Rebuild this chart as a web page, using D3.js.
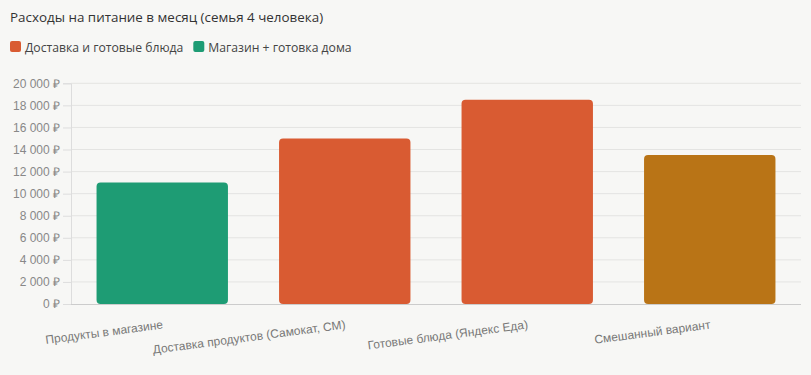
<!DOCTYPE html>
<html><head><meta charset="utf-8">
<script src="https://cdn.jsdelivr.net/npm/d3@7"></script>
<style>
html,body{margin:0;padding:0;background:#f7f7f5;}
svg{display:block;}
</style></head>
<body>
<svg id="c" width="811" height="375"></svg>
<script>
const categories = ["Продукты в магазине", "Доставка продуктов (Самокат, СМ)", "Готовые блюда (Яндекс Еда)", "Смешанный вариант"];
const values = [11000, 15000, 18500, 13500];
const barColors = ["#1e9c74", "#d95b32", "#d95b32", "#b97416"];
const yTicks = [0, 2000, 4000, 6000, 8000, 10000, 12000, 14000, 16000, 18000, 20000];
const legendLabels = ["Доставка и готовые блюда", "Магазин + готовка дома"];
const legendColors = ["#d95b32", "#1e9c74"];
const title = "Расходы на питание в месяц (семья 4 человека)";

(function () {
const svg = d3.select("#c");
svg.append("rect").attr("width", 811).attr("height", 375).attr("fill", "#f7f7f5");

const pLeft = 71, pRight = 801, pTop = 83.3, pBottom = 304;
const x = d3.scaleBand().domain(categories).range([pLeft, pRight]).paddingInner(0.28).paddingOuter(0.14);
const y = d3.scaleLinear().domain([0, 20000]).range([pBottom, pTop]);
const fmt = v => d3.format(",")(v).replace(/,/g, "\u00a0") + " \u20bd";

// title
svg.append("text").attr("x", 10).attr("y", 22).text(title)
  .attr("font-family", "'Open Sans', sans-serif").attr("font-size", 13.4).attr("fill", "#333");

// legend
let lx = 10;
legendLabels.forEach((l, i) => {
  svg.append("rect").attr("x", lx).attr("y", 41).attr("width", 11).attr("height", 11).attr("rx", 2)
    .attr("fill", legendColors[i]);
  const t = svg.append("text").attr("x", lx + 15).attr("y", 51.5).text(l)
    .attr("font-family", "'Open Sans', sans-serif").attr("font-size", 12.2).attr("fill", "#444");
  lx += 15 + t.node().getComputedTextLength() + 10;
});

// grid
svg.append("g").selectAll("line").data(yTicks.filter(d => d > 0)).join("line")
  .attr("x1", pLeft).attr("x2", pRight).attr("y1", d => y(d)).attr("y2", d => y(d))
  .attr("stroke", "#e4e4e2").attr("stroke-width", 1);

// y axis
const ya = svg.append("g").attr("transform", `translate(${pLeft},0)`)
  .call(d3.axisLeft(y).tickValues(yTicks).tickFormat(fmt).tickSize(8).tickPadding(3));
ya.select(".domain").attr("stroke", "#dddddd");
ya.selectAll(".tick line").attr("stroke", "#dddddd");
ya.selectAll("text").attr("font-family", "'Liberation Sans', Arial, sans-serif").attr("font-size", 12).attr("fill", "#888");

// bars
svg.append("g").selectAll("rect").data(values).join("rect")
  .attr("x", (d, i) => x(categories[i])).attr("width", x.bandwidth())
  .attr("y", d => y(d)).attr("height", d => y(0) - y(d))
  .attr("rx", 4).attr("fill", (d, i) => barColors[i]);

// x axis line
svg.append("line").attr("x1", pLeft).attr("x2", pRight).attr("y1", pBottom + 0.5).attr("y2", pBottom + 0.5)
  .attr("stroke", "#cccccc");

// x labels
svg.append("g").selectAll("text").data(categories).join("text")
  .attr("transform", d => `translate(${x(d) + x.bandwidth() / 2},${pBottom + 16}) rotate(-7.5)`)
  .attr("text-anchor", "end").attr("dy", "0.71em").text(d => d)
  .attr("font-family", "'Liberation Sans', Arial, sans-serif").attr("font-size", 12).attr("fill", "#777");
})();
</script>
</body></html>
